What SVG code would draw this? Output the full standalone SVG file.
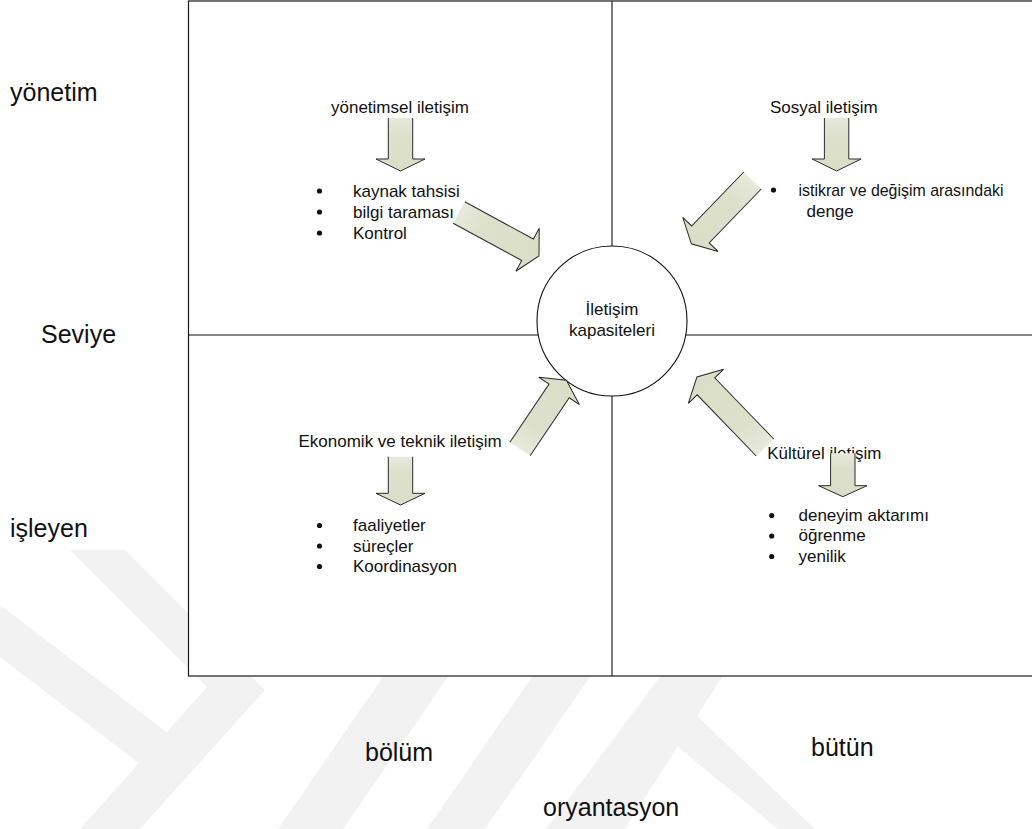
<svg xmlns="http://www.w3.org/2000/svg" width="1032" height="829" viewBox="0 0 1032 829">
  <style>
    .t { font-family: "Liberation Sans", Arial, sans-serif; fill: #111; }
    .s17 { font-size: 17px; }
    .s25 { font-size: 25px; }
    .line { stroke: #111; stroke-width: 1.1; fill: none; }
    .arrow { fill: url(#arrowFill); stroke: #2a2a2a; stroke-width: 1; stroke-linejoin: miter; }
    .wm { fill: #f2f2f2; }
    .bullet { fill: #111; }
  </style>
  <defs>
    <linearGradient id="arrowFill" x1="0" y1="0" x2="1" y2="0">
      <stop offset="0" stop-color="#e7e9dc"/>
      <stop offset="0.3" stop-color="#dde1cc"/>
      <stop offset="1" stop-color="#dadec6"/>
    </linearGradient>
  </defs>

  <rect x="0" y="0" width="1032" height="829" fill="#ffffff"/>

  <g id="watermark">
    <polygon class="wm" points="0,605 0,657 165,783 190,750"/>
    <polygon class="wm" points="70,550 125,550 265,690 140,829 80,829 207,687"/>
    <polygon class="wm" points="385,674 450,674 343,829 278,829"/>
    <polygon class="wm" points="534,674 592,674 485,829 427,829"/>
    <polygon class="wm" points="662,674 724,674 625,829 546,829"/>
    <polygon class="wm" points="693,712 815,829 778,829 666,737"/>
  </g>

  <g id="quadrant-frame">
    <rect x="188.5" y="1" width="900" height="675" fill="#ffffff" stroke="#1a1a1a" stroke-width="1.2"/>
    <line class="line" x1="612" y1="1" x2="612" y2="676"/>
    <line class="line" x1="188.5" y1="335" x2="1040" y2="335"/>
  </g>

  <g id="node-center">
    <circle cx="612" cy="321" r="75" fill="#ffffff" stroke="#111" stroke-width="1.1"/>
    <text class="t s17" x="612" y="315" text-anchor="middle">İletişim</text>
    <text class="t s17" x="612" y="336" text-anchor="middle">kapasiteleri</text>
  </g>

  <g id="axis-labels">
    <text class="t s25" x="10" y="101">yönetim</text>
    <text class="t s25" x="41" y="343">Seviye</text>
    <text class="t s25" x="10" y="537">işleyen</text>
    <text class="t s25" x="365" y="761">bölüm</text>
    <text class="t s25" x="811" y="755.5">bütün</text>
    <text class="t s25" x="543" y="816">oryantasyon</text>
  </g>

  <g id="node-yonetimsel">
    <text class="t s17" x="331" y="113">yönetimsel iletişim</text>
    <circle class="bullet" cx="319.5" cy="191" r="2.6"/>
    <circle class="bullet" cx="319.5" cy="212" r="2.6"/>
    <circle class="bullet" cx="319.5" cy="233" r="2.6"/>
    <text class="t s17" x="353" y="196.5">kaynak tahsisi</text>
    <text class="t s17" x="353" y="217.5">bilgi taraması</text>
    <text class="t s17" x="353" y="238.5">Kontrol</text>
  </g>

  <g id="node-sosyal">
    <text class="t s17" x="770" y="113">Sosyal iletişim</text>
    <circle class="bullet" cx="773.5" cy="190" r="2.6"/>
    <text class="t s17" x="798.5" y="196" textLength="205" lengthAdjust="spacingAndGlyphs">istikrar ve değişim arasındaki</text>
    <text class="t s17" x="806.5" y="217">denge</text>
  </g>

  <g id="node-ekonomik">
    <text class="t s17" x="298.5" y="447.3">Ekonomik ve teknik iletişim</text>
    <circle class="bullet" cx="319.5" cy="525.5" r="2.6"/>
    <circle class="bullet" cx="319.5" cy="546" r="2.6"/>
    <circle class="bullet" cx="319.5" cy="566.5" r="2.6"/>
    <text class="t s17" x="353" y="531">faaliyetler</text>
    <text class="t s17" x="353" y="551.5">süreçler</text>
    <text class="t s17" x="353" y="572">Koordinasyon</text>
  </g>

  <g id="node-kulturel">
    <text class="t s17" x="767.3" y="459" textLength="114" lengthAdjust="spacingAndGlyphs">Kültürel iletişim</text>
    <circle class="bullet" cx="771.7" cy="515.5" r="2.6"/>
    <circle class="bullet" cx="771.7" cy="536" r="2.6"/>
    <circle class="bullet" cx="771.7" cy="556.5" r="2.6"/>
    <text class="t s17" x="798.5" y="520.5">deneyim aktarımı</text>
    <text class="t s17" x="798.5" y="541">öğrenme</text>
    <text class="t s17" x="798.5" y="561.5">yenilik</text>
  </g>

  <g id="connectors">
    <!-- heading-to-list block arrows -->
    <path class="arrow" transform="translate(400.5,118) rotate(90)" d="M0,-12.2 L41,-12.2 L41,-24.5 L53,0 L41,24.5 L41,12.2 L0,12.2"/>
    <path class="arrow" transform="translate(836.6,118) rotate(90)" d="M0,-12.2 L41,-12.2 L41,-24.5 L53,0 L41,24.5 L41,12.2 L0,12.2"/>
    <path class="arrow" transform="translate(400.5,456.7) rotate(90)" d="M0,-12.2 L36.6,-12.2 L36.6,-24.5 L48.3,0 L36.6,24.5 L36.6,12.2 L0,12.2"/>
    <path class="arrow" transform="translate(842.8,453.3) rotate(90)" d="M0,-12.2 L32.4,-12.2 L32.4,-24.2 L43.4,0 L32.4,24.2 L32.4,12.2 L0,12.2"/>
    <!-- quadrant-to-centre block arrows -->
    <path class="arrow" transform="translate(459,212.5) rotate(28.5)" d="M0,-12.2 L78,-12.2 L78,-24.5 L91,0 L78,24.5 L78,12.2 L0,12.2"/>
    <path class="arrow" transform="translate(752.5,180.5) rotate(134)" d="M0,-12.2 L75,-12.2 L75,-24.5 L88,0 L75,24.5 L75,12.2 L0,12.2"/>
    <path class="arrow" transform="translate(520,449) rotate(-56)" d="M0,-12.2 L70,-12.2 L70,-24.5 L83,0 L70,24.5 L70,12.2 L0,12.2"/>
    <path class="arrow" transform="translate(765,447.5) rotate(-134)" d="M0,-12.2 L85,-12.2 L85,-24.5 L98,0 L85,24.5 L85,12.2 L0,12.2"/>
  </g>
</svg>
